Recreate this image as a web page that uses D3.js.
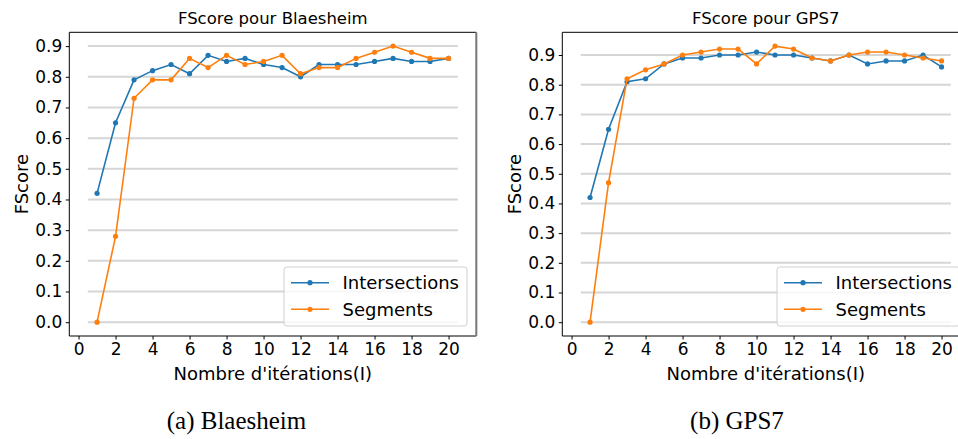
<!DOCTYPE html>
<html lang="fr">
<head>
    <meta charset="UTF-8">
    <title>FScore pour Blaesheim et GPS7</title>
    <script src="https://d3js.org/d3.v7.min.js"></script>
    <style>
        body {
            margin: 0;
            background: #fff;
        }

        svg {
            font-family: "DejaVu Sans", sans-serif;
        }

        .tick text {
            font-size: 17px;
            fill: #000;
        }

        .caption {
            font-family: "Liberation Serif", serif;
            font-size: 25px;
        }
    </style>
</head>
<body>

<svg id="chart" width="958" height="439"></svg>

<script>
    // Données
    const iterations = [1, 2, 3, 4, 5, 6, 7, 8, 9, 10, 11, 12, 13, 14, 15, 16, 17, 18, 19, 20];

    const blaesheimIntersections = [0.42, 0.65, 0.79, 0.82, 0.84, 0.81, 0.87, 0.85, 0.86, 0.84,
                                    0.83, 0.80, 0.84, 0.84, 0.84, 0.85, 0.86, 0.85, 0.85, 0.86];
    const blaesheimSegments = [0.00, 0.28, 0.73, 0.79, 0.79, 0.86, 0.83, 0.87, 0.84, 0.85,
                               0.87, 0.81, 0.83, 0.83, 0.86, 0.88, 0.90, 0.88, 0.86, 0.86];

    const gps7Intersections = [0.42, 0.65, 0.81, 0.82, 0.87, 0.89, 0.89, 0.90, 0.90, 0.91,
                               0.90, 0.90, 0.89, 0.88, 0.90, 0.87, 0.88, 0.88, 0.90, 0.86];
    const gps7Segments = [0.00, 0.47, 0.82, 0.85, 0.87, 0.90, 0.91, 0.92, 0.92, 0.87,
                          0.93, 0.92, 0.89, 0.88, 0.90, 0.91, 0.91, 0.90, 0.89, 0.88];

    const xTicks = [0, 2, 4, 6, 8, 10, 12, 14, 16, 18, 20];
    const yTicks = [0.0, 0.1, 0.2, 0.3, 0.4, 0.5, 0.6, 0.7, 0.8, 0.9];
    const seriesNames = ["Intersections", "Segments"];
    const colors = ["#1f77b4", "#ff7f0e"];

    const panels = [
        { left: 69.3, captionX: 236.5, title: "FScore pour Blaesheim", caption: "(a) Blaesheim",
          series: [blaesheimIntersections, blaesheimSegments] },
        { left: 562.3, captionX: 737, title: "FScore pour GPS7", caption: "(b) GPS7",
          series: [gps7Intersections, gps7Segments] }
    ];

    const plotTop = 32.3, plotW = 407, plotH = 303.7;

    const svg = d3.select("#chart");

    panels.forEach(p => {
        const g = svg.append("g").attr("transform", `translate(${p.left},${plotTop})`);

        const x = d3.scaleLinear().domain([-0.5, 21.5]).range([0, plotW]);

        // marges à la matplotlib (5 %)
        const all = p.series.flat();
        const lo = d3.min(all), hi = d3.max(all), pad = (hi - lo) * 0.05;
        const y = d3.scaleLinear().domain([lo - pad, hi + pad]).range([plotH, 0]);

        // Lignes horizontales de la grille
        g.selectAll(".grid")
         .data(yTicks)
         .enter().append("line")
         .attr("x1", x(0.5)).attr("x2", x(20.5))
         .attr("y1", d => y(d)).attr("y2", d => y(d))
         .attr("stroke", "#d6d6d6")
         .attr("stroke-width", 2);

        // Axes
        const xAxis = g.append("g")
                       .attr("transform", `translate(0,${plotH})`)
                       .call(d3.axisBottom(x).tickValues(xTicks).tickSize(3.5).tickPadding(3));
        const yAxis = g.append("g")
                       .call(d3.axisLeft(y).tickValues(yTicks).tickFormat(d3.format(".1f"))
                                          .tickSize(3.5).tickPadding(3.5));
        [xAxis, yAxis].forEach(a => {
            a.select(".domain").remove();
            a.attr("font-family", null).attr("font-size", null);
        });

        // Cadre
        g.append("line").attr("x1", 0).attr("x2", plotW).attr("y1", 0).attr("y2", 0)
         .attr("stroke", "#000").attr("stroke-width", 1);
        g.append("line").attr("x1", 0).attr("x2", plotW).attr("y1", plotH).attr("y2", plotH)
         .attr("stroke", "#000").attr("stroke-width", 1);
        g.append("line").attr("x1", 0).attr("x2", 0).attr("y1", 0).attr("y2", plotH)
         .attr("stroke", "#000").attr("stroke-width", 1);
        g.append("line").attr("x1", plotW).attr("x2", plotW).attr("y1", 0).attr("y2", plotH)
         .attr("stroke", "#777").attr("stroke-width", 2);

        // Séries
        const line = d3.line()
                       .x((d, i) => x(iterations[i]))
                       .y(d => y(d));

        p.series.forEach((values, si) => {
            g.append("path")
             .datum(values)
             .attr("fill", "none")
             .attr("stroke", colors[si])
             .attr("stroke-width", 1.6)
             .attr("d", line);

            g.selectAll(".pt" + si)
             .data(values)
             .enter().append("circle")
             .attr("cx", (d, i) => x(iterations[i]))
             .attr("cy", d => y(d))
             .attr("r", 2.6)
             .attr("fill", colors[si]);
        });

        // Légende
        const lg = g.append("g").attr("transform", `translate(${214.7},${234.7})`);
        lg.append("rect")
          .attr("width", 183).attr("height", 59).attr("rx", 3)
          .attr("fill", "#fff").attr("fill-opacity", 0.8)
          .attr("stroke", "#d0d0d0").attr("stroke-width", 1);
        seriesNames.forEach((name, i) => {
            const ry = 15.7 + i * 26.6;
            lg.append("line").attr("x1", 7).attr("x2", 45).attr("y1", ry).attr("y2", ry)
              .attr("stroke", colors[i]).attr("stroke-width", 1.6);
            lg.append("circle").attr("cx", 26).attr("cy", ry).attr("r", 2.6).attr("fill", colors[i]);
            lg.append("text").attr("x", 58.5).attr("y", ry + 6.5)
              .attr("font-size", 18).text(name);
        });

        // Titres
        g.append("text")
         .attr("x", plotW / 2).attr("y", -8)
         .attr("text-anchor", "middle")
         .attr("font-size", 16.5)
         .text(p.title);

        g.append("text")
         .attr("x", plotW / 2).attr("y", plotH + 44)
         .attr("text-anchor", "middle")
         .attr("font-size", 18)
         .text("Nombre d'itérations(I)");

        g.append("text")
         .attr("transform", `translate(-41,${plotH / 2}) rotate(-90)`)
         .attr("text-anchor", "middle")
         .attr("font-size", 18)
         .text("FScore");

        svg.append("text")
           .attr("class", "caption")
           .attr("x", p.captionX)
           .attr("y", 429)
           .attr("text-anchor", "middle")
           .text(p.caption);
    });
</script>

</body>
</html>
